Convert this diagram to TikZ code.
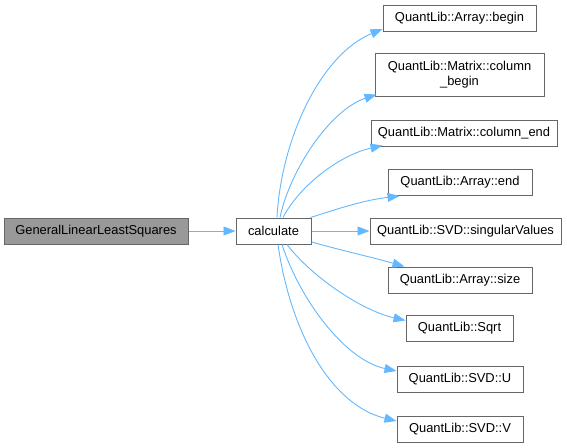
\documentclass[tikz,border=0pt]{standalone}
\usepackage{fontspec}
\setmainfont{Liberation Sans}
\usetikzlibrary{arrows.meta,calc}
\definecolor{edgeblue}{HTML}{63B8FF}
\definecolor{boxgray}{HTML}{666666}
\definecolor{mainfill}{HTML}{999999}
\begin{document}
\begin{tikzpicture}[x=1pt,y=-1pt,
  box/.style={draw=boxgray,line width=1pt,fill=white,inner sep=0pt,
    minimum height=26pt,align=center,font=\fontsize{12.9}{14.5}\selectfont},
  mainbox/.style={box,fill=mainfill},
  edge/.style={draw=edgeblue,line width=0.9pt,-{Triangle[length=12pt,width=9pt]}}]
\useasboundingbox (0,0) rectangle (567,447);
\node[mainbox,minimum width=184pt] (main) at (96,231) {GeneralLinearLeastSquares};
\node[box,minimum width=75pt] (calc) at (273.5,231) {calculate};
\node[box,minimum width=153pt] (begin) at (459.5,18) {QuantLib::Array::begin};
\node[box,minimum width=169pt,minimum height=43pt] (colbegin) at (459.5,74.5) {QuantLib::Matrix::column\\\_begin};
\node[box,minimum width=186pt] (colend) at (464,133.5) {QuantLib::Matrix::column\_end};
\node[box,minimum width=144pt] (end) at (460,182.5) {QuantLib::Array::end};
\node[box,minimum width=191pt] (sv) at (465.5,231) {QuantLib::SVD::singularValues};
\node[box,minimum width=144pt] (size) at (460,280) {QuantLib::Array::size};
\node[box,minimum width=107pt] (sqrt) at (459.5,328.5) {QuantLib::Sqrt};
\node[box,minimum width=126pt] (U) at (460,379) {QuantLib::SVD::U};
\node[box,minimum width=126pt] (V) at (460,429) {QuantLib::SVD::V};

\draw[edge] (main.east) -- (calc.west);
\draw[edge] ($(calc.north)+(3.5,0)$) .. controls (281,140) and (320,55) .. ($(begin.west)+(0,11)$);
\draw[edge] ($(calc.north)+(6.5,0)$) .. controls (290,170) and (330,110) .. ($(colbegin.west)+(2,20)$);
\draw[edge] ($(calc.north)+(9.5,0)$) .. controls (300,185) and (340,155) .. ($(colend.west)+(12,12)$);
\draw[edge] ($(calc.north east)+(-1,0)$) .. controls (340,208) and (365,200) .. ($(end.south west)+(12,0)$);
\draw[edge] (calc.east) -- (sv.west);
\draw[edge] ($(calc.east)+(0,11)$) .. controls (340,250) and (375,258) .. ($(size.north west)+(17,0)$);
\draw[edge] ($(calc.south)+(13.5,0)$) .. controls (310,275) and (360,310) .. ($(sqrt.west)+(0,-8)$);
\draw[edge] ($(calc.south)+(8.5,0)$) .. controls (300,300) and (345,360) .. ($(U.west)+(0,-8)$);
\draw[edge] ($(calc.south)+(4.5,0)$) .. controls (290,330) and (330,405) .. ($(V.west)+(0,-8)$);
\end{tikzpicture}
\end{document}
